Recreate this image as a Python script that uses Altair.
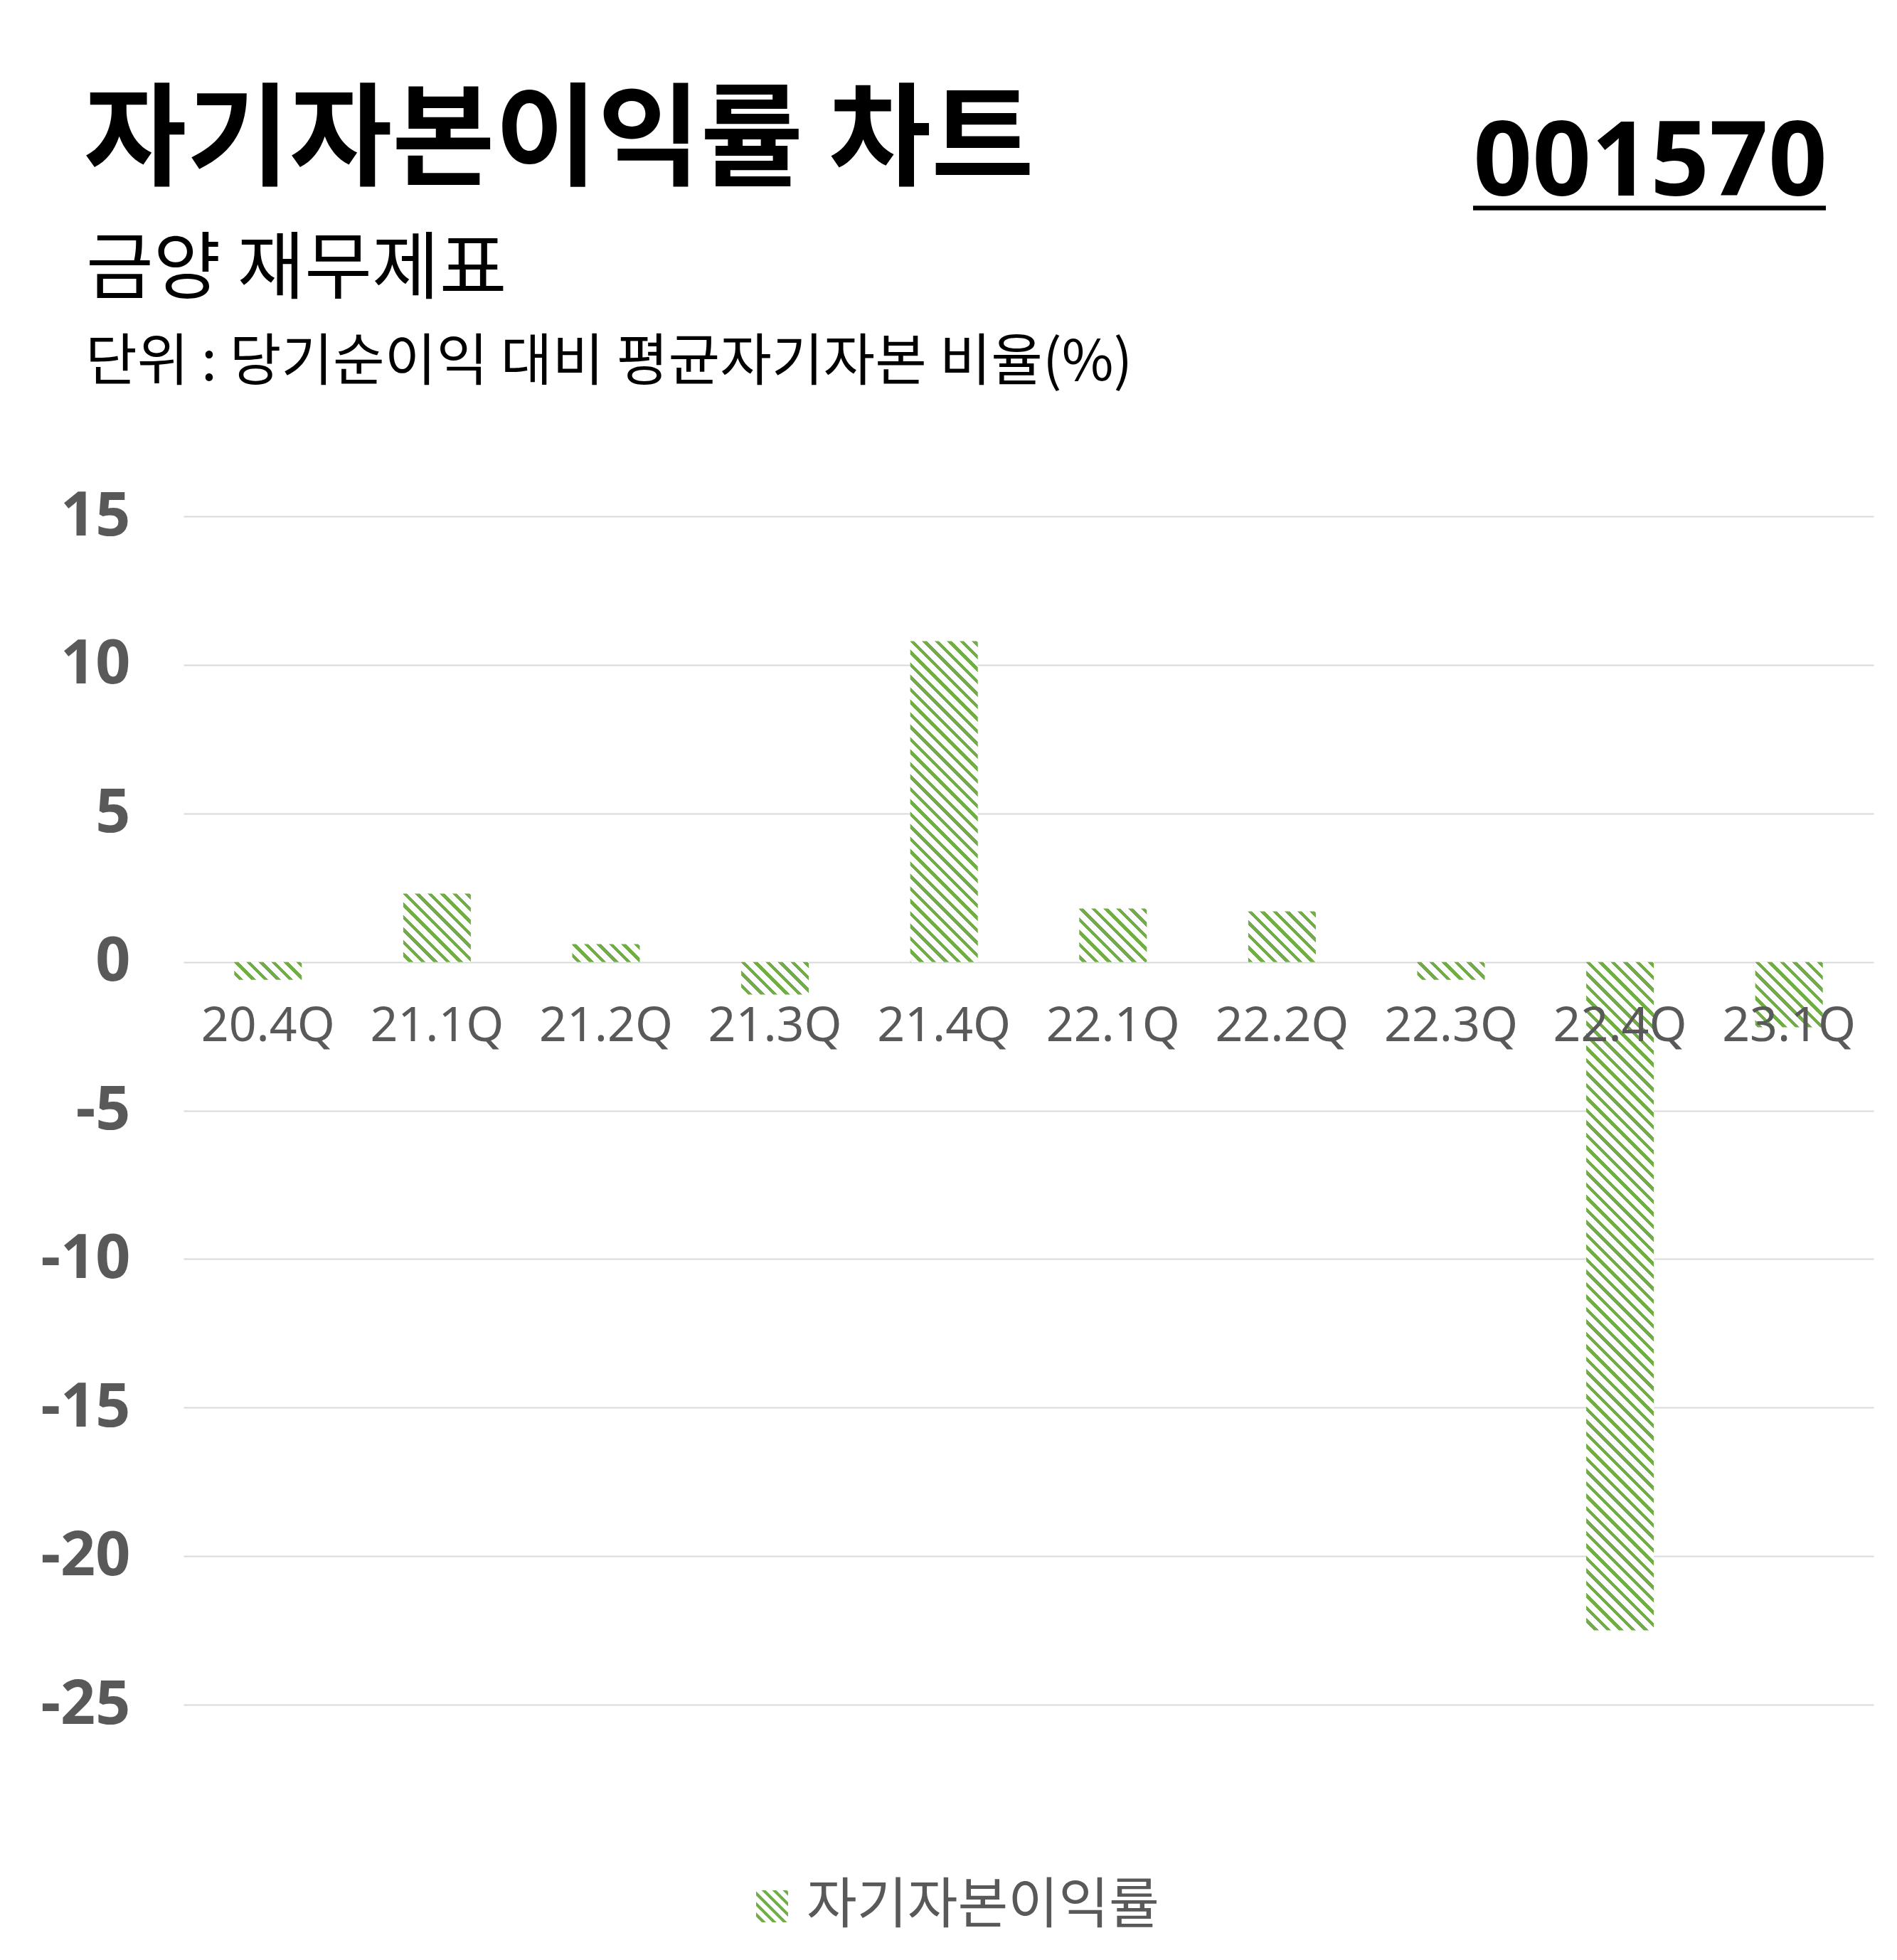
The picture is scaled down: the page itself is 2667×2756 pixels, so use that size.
import altair as alt
import pandas as pd

# ---------------- data ----------------
QUARTERS = ["20.4Q", "21.1Q", "21.2Q", "21.3Q", "21.4Q",
            "22.1Q", "22.2Q", "22.3Q", "22.4Q", "23.1Q"]
ROE = [-0.6, 2.3, 0.6, -1.1, 10.8, 1.8, 1.7, -0.6, -22.5, -2.2]
SERIES = "자기자본이익률"
Y_TICKS = [15, 10, 5, 0, -5, -10, -15, -20, -25]

TITLE = "자기자본이익률 차트"
CODE = "001570"
SUBTITLE = "금양 재무제표"
UNIT = "단위 : 당기순이익 대비 평균자기자본 비율(%)"

# ---------------- styling ----------------
GREEN = "#70AD47"
GRAY = "#595959"
W, H = 2376, 1671
Y_MIN, Y_MAX = -25, 15
BAR_W = 95
PX_PER_UNIT = H / (Y_MAX - Y_MIN)
STRIPE_P = 17.5   # horizontal stripe period (px)
STRIPE_G = 6.5    # green part of the period (px)
KR = "Noto Sans CJK KR"
LAT = "Noto Sans"


def stripe_gradient(value):
    """Wide downward diagonal hatch as a hard-stop linear gradient."""
    w = float(BAR_W)
    h = max(abs(value) * PX_PER_UNIT, 1.0)
    total = w + h
    s = w * (w + h) / (w * w + h * h)
    x2 = 1 - s
    y2 = s * h / w
    stops = [alt.GradientStop(offset=0, color="white")]
    c = 2.0
    while c < total:
        o0 = round(c / total, 6)
        o1 = round(min(c + STRIPE_G, total) / total, 6)
        stops += [alt.GradientStop(offset=o0, color="white"),
                  alt.GradientStop(offset=o0, color=GREEN),
                  alt.GradientStop(offset=o1, color=GREEN),
                  alt.GradientStop(offset=o1, color="white")]
        c += STRIPE_P
    stops.append(alt.GradientStop(offset=1, color="white"))
    return alt.LinearGradient(gradient="linear", x1=1, y1=0,
                              x2=round(x2, 6), y2=round(y2, 6), stops=stops)


def clip(poly, inside, inter):
    out = []
    n = len(poly)
    for i in range(n):
        cur, prev = poly[i], poly[i - 1]
        if inside(cur):
            if not inside(prev):
                out.append(inter(prev, cur))
            out.append(cur)
        elif inside(prev):
            out.append(inter(prev, cur))
    return out


def hatch_path(period=0.66, green=0.26):
    planes = []
    for axis in (0, 1):
        for lim, sign in ((-1.0, 1), (1.0, -1)):
            def inside(p, a=axis, l=lim, sg=sign):
                return (p[a] - l) * sg >= -1e-9

            def inter(p, q, a=axis, l=lim):
                t = (l - p[a]) / (q[a] - p[a])
                return (p[0] + t * (q[0] - p[0]), p[1] + t * (q[1] - p[1]))
            planes.append((inside, inter))
    parts = []
    c = -2.3
    while c < 2.0:
        poly = [(c - 3, -3), (c + 3, 3), (c + green + 3, 3), (c + green - 3, -3)]
        for inside, inter in planes:
            if not poly:
                break
            poly = clip(poly, inside, inter)
        if len(poly) >= 3:
            parts.append("M" + "L".join(f"{x:.3f},{y:.3f}" for x, y in poly) + "Z")
        c += period
    return "".join(parts)


df = pd.DataFrame({"q": QUARTERS, "v": ROE, "s": [SERIES] * len(QUARTERS)})

zero_y = H * Y_MAX / (Y_MAX - Y_MIN)

x_enc = alt.X(
    "q:N", sort=QUARTERS, title=None,
    scale=alt.Scale(paddingInner=0, paddingOuter=0),
    axis=alt.Axis(labelAngle=0, ticks=False, domain=False, grid=False,
                  labelPadding=57, offset=-(H - zero_y), labelLimit=1000,
                  labelFont=LAT, labelFontSize=68, labelColor=GRAY,
                  labelFontWeight="normal", zindex=1),
)
y_enc = alt.Y(
    "v:Q", title=None,
    scale=alt.Scale(domain=[Y_MIN, Y_MAX], nice=False, zero=False),
    axis=alt.Axis(values=Y_TICKS, ticks=False, domain=False,
                  labelPadding=75, labelFont=LAT, labelFontSize=86,
                  labelFontWeight="bold", labelColor=GRAY,
                  labelExpr="'' + datum.value",
                  gridColor="#d9d9d9", gridWidth=2, zindex=0),
)

base = alt.Chart(df).encode(x=x_enc, y=y_enc)

layers = []
for q, v in zip(QUARTERS, ROE):
    layers.append(
        base.transform_filter(alt.FieldEqualPredicate(field="q", equal=q))
        .mark_bar(size=BAR_W, fill=stripe_gradient(v), strokeWidth=0)
    )

legend_layer = alt.Chart(df).mark_bar(size=BAR_W, strokeWidth=0).encode(
    x=x_enc,
    y=alt.Y(datum=0),
    y2=alt.Y2(datum=0),
    color=alt.Color(
        "s:N", scale=alt.Scale(range=[GREEN]),
        legend=alt.Legend(title=None, orient="none", legendX=789, legendY=1916,
                          symbolType=hatch_path(), symbolSize=2025,
                          symbolStrokeWidth=0, labelFont=KR, labelFontSize=77,
                          labelColor=GRAY, labelOffset=10, labelLimit=2000,
                          padding=0),
    ),
)


def text_layer(txt, x, y, size, weight="normal", font=KR, align="left", color="black"):
    return alt.Chart(pd.DataFrame({"t": [txt]})).mark_text(
        align=align, baseline="alphabetic", font=font, fontSize=size,
        fontWeight=weight, color=color,
    ).encode(text="t:N", x=alt.value(x), y=alt.value(y))


OX, OY = 258, 726  # plot origin on the page
title_l = text_layer(TITLE, 118 - OX, 248 - OY, 157, weight="bold")
code_l = text_layer(CODE, 2569 - OX, 275 - OY, 145, weight="bold", font=LAT, align="right")
sub_l = text_layer(SUBTITLE, 121 - OX, 412 - OY, 103)
unit_l = text_layer(UNIT, 120 - OX, 535 - OY, 79)
underline = alt.Chart(pd.DataFrame({"t": [CODE]})).mark_rule(
    color="black", strokeWidth=6.5
).encode(x=alt.value(2071 - OX), x2=alt.value(2567 - OX), y=alt.value(292.5 - OY))

chart = alt.layer(
    *layers, legend_layer, title_l, code_l, sub_l, unit_l, underline
).properties(
    width=W, height=H,
    autosize=alt.AutoSizeParams(type="none"),
    padding={"left": OX - 8, "top": OY - 8, "right": 2667 - 16 - (OX - 8) - W,
             "bottom": 330},
    background="white",
).configure_view(strokeWidth=0)

chart.save("out.html", embed_options={"renderer": "svg", "actions": False})
